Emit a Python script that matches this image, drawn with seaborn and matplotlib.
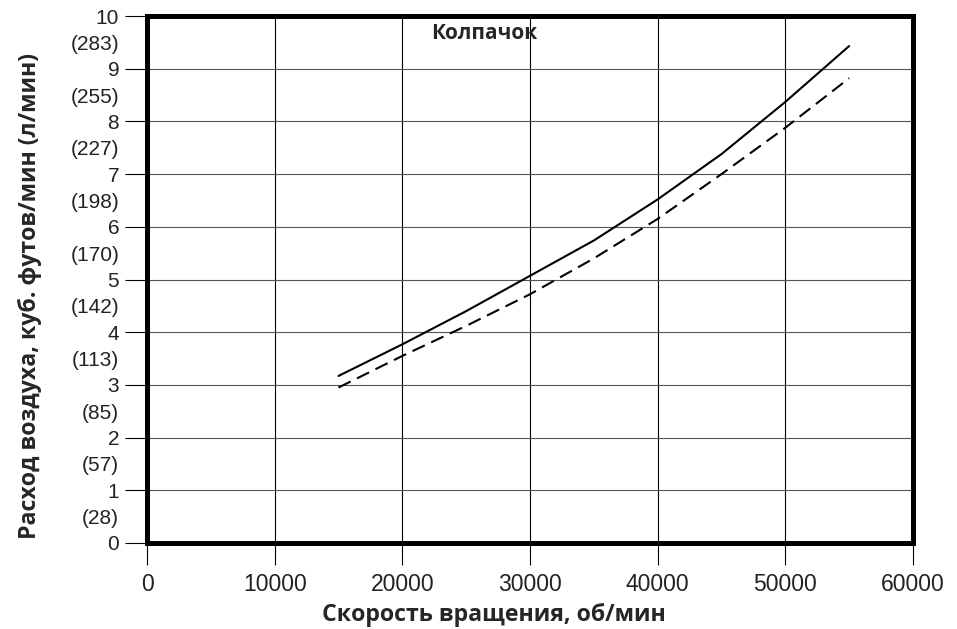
import matplotlib
matplotlib.use('Agg')
import matplotlib.pyplot as plt
import seaborn as sns
import pandas as pd
from matplotlib.ticker import FixedLocator, FixedFormatter

# data
speed_rpm = [15000, 20000, 25000, 30000, 35000, 40000, 45000, 50000, 55000]
flow_solid = [3.17, 3.77, 4.40, 5.07, 5.74, 6.52, 7.38, 8.37, 9.43]
flow_dashed = [2.95, 3.55, 4.12, 4.72, 5.40, 6.15, 7.00, 7.88, 8.82]

x_ticks = [0, 10000, 20000, 30000, 40000, 50000, 60000]
y_ticks = [0, 1, 2, 3, 4, 5, 6, 7, 8, 9, 10]
lpm_pos = [0.5, 1.5, 2.5, 3.5, 4.5, 5.5, 6.5, 7.5, 8.5, 9.5]
lpm_labels = ['(28)', '(57)', '(85)', '(113)', '(142)', '(170)', '(198)', '(227)', '(255)', '(283)']

title = 'Колпачок'
x_label = 'Скорость вращения, об/мин'
y_label = 'Расход воздуха, куб. футов/мин (л/мин)'

sns.set_theme(style='white')
plt.rcParams['font.family'] = ['Liberation Sans', 'DejaVu Sans']

df = pd.DataFrame({'speed': speed_rpm, 'solid': flow_solid, 'dashed': flow_dashed})

fig = plt.figure(figsize=(9.57, 6.29), dpi=100)
ax = fig.add_axes([147 / 957, 86 / 629, 766 / 957, 527 / 629])

sns.lineplot(data=df, x='speed', y='solid', ax=ax, color='black', linewidth=1.5)
sns.lineplot(data=df, x='speed', y='dashed', ax=ax, color='black', linewidth=1.5)
ax.lines[-1].set_dashes((6.5, 3.4))

ax.set_xlim(0, 60000)
ax.set_ylim(0, 10)

# grid
for xv in x_ticks[1:-1]:
    ax.axvline(xv, color='black', linewidth=0.8, zorder=0)
for yv in y_ticks[1:-1]:
    ax.axhline(yv, color='#555555', linewidth=0.8, zorder=0)

ax.set_xticks(x_ticks)
ax.set_xticklabels([str(v) for v in x_ticks])
ax.set_yticks(y_ticks)
ax.set_yticklabels([str(v) for v in y_ticks])
ax.yaxis.set_minor_locator(FixedLocator(lpm_pos))
ax.yaxis.set_minor_formatter(FixedFormatter(lpm_labels))

ax.tick_params(axis='both', which='major', direction='out', length=16, width=0.8,
               color='black', labelcolor='#222222', bottom=True, left=True)
ax.tick_params(axis='x', which='major', labelsize=16.5, pad=5.5)
ax.tick_params(axis='y', which='major', labelsize=15, pad=4)
ax.tick_params(axis='y', which='minor', length=0, pad=20, labelsize=15,
               labelcolor='#222222', left=True)

for sp in ax.spines.values():
    sp.set_visible(True)
    sp.set_color('black')
    sp.set_linewidth(3.6)
    sp.set_zorder(5)

ax.text(0.4406, 0.9677, title, transform=ax.transAxes, ha='center', va='center',
        fontsize=15, fontweight='bold', family='Open Sans')

ax.set_xlabel(x_label, fontsize=16.7, fontweight='bold', family='Open Sans')
ax.set_ylabel(y_label, fontsize=16.7, fontweight='bold', family='Open Sans')
ax.xaxis.set_label_coords(0.453, -0.1366)
ax.xaxis.label.set_va('center')
ax.yaxis.set_label_coords(-0.1527, 0.4687)
ax.yaxis.label.set_va('center')

fig.savefig('out.png', dpi=100)
plt.close(fig)
